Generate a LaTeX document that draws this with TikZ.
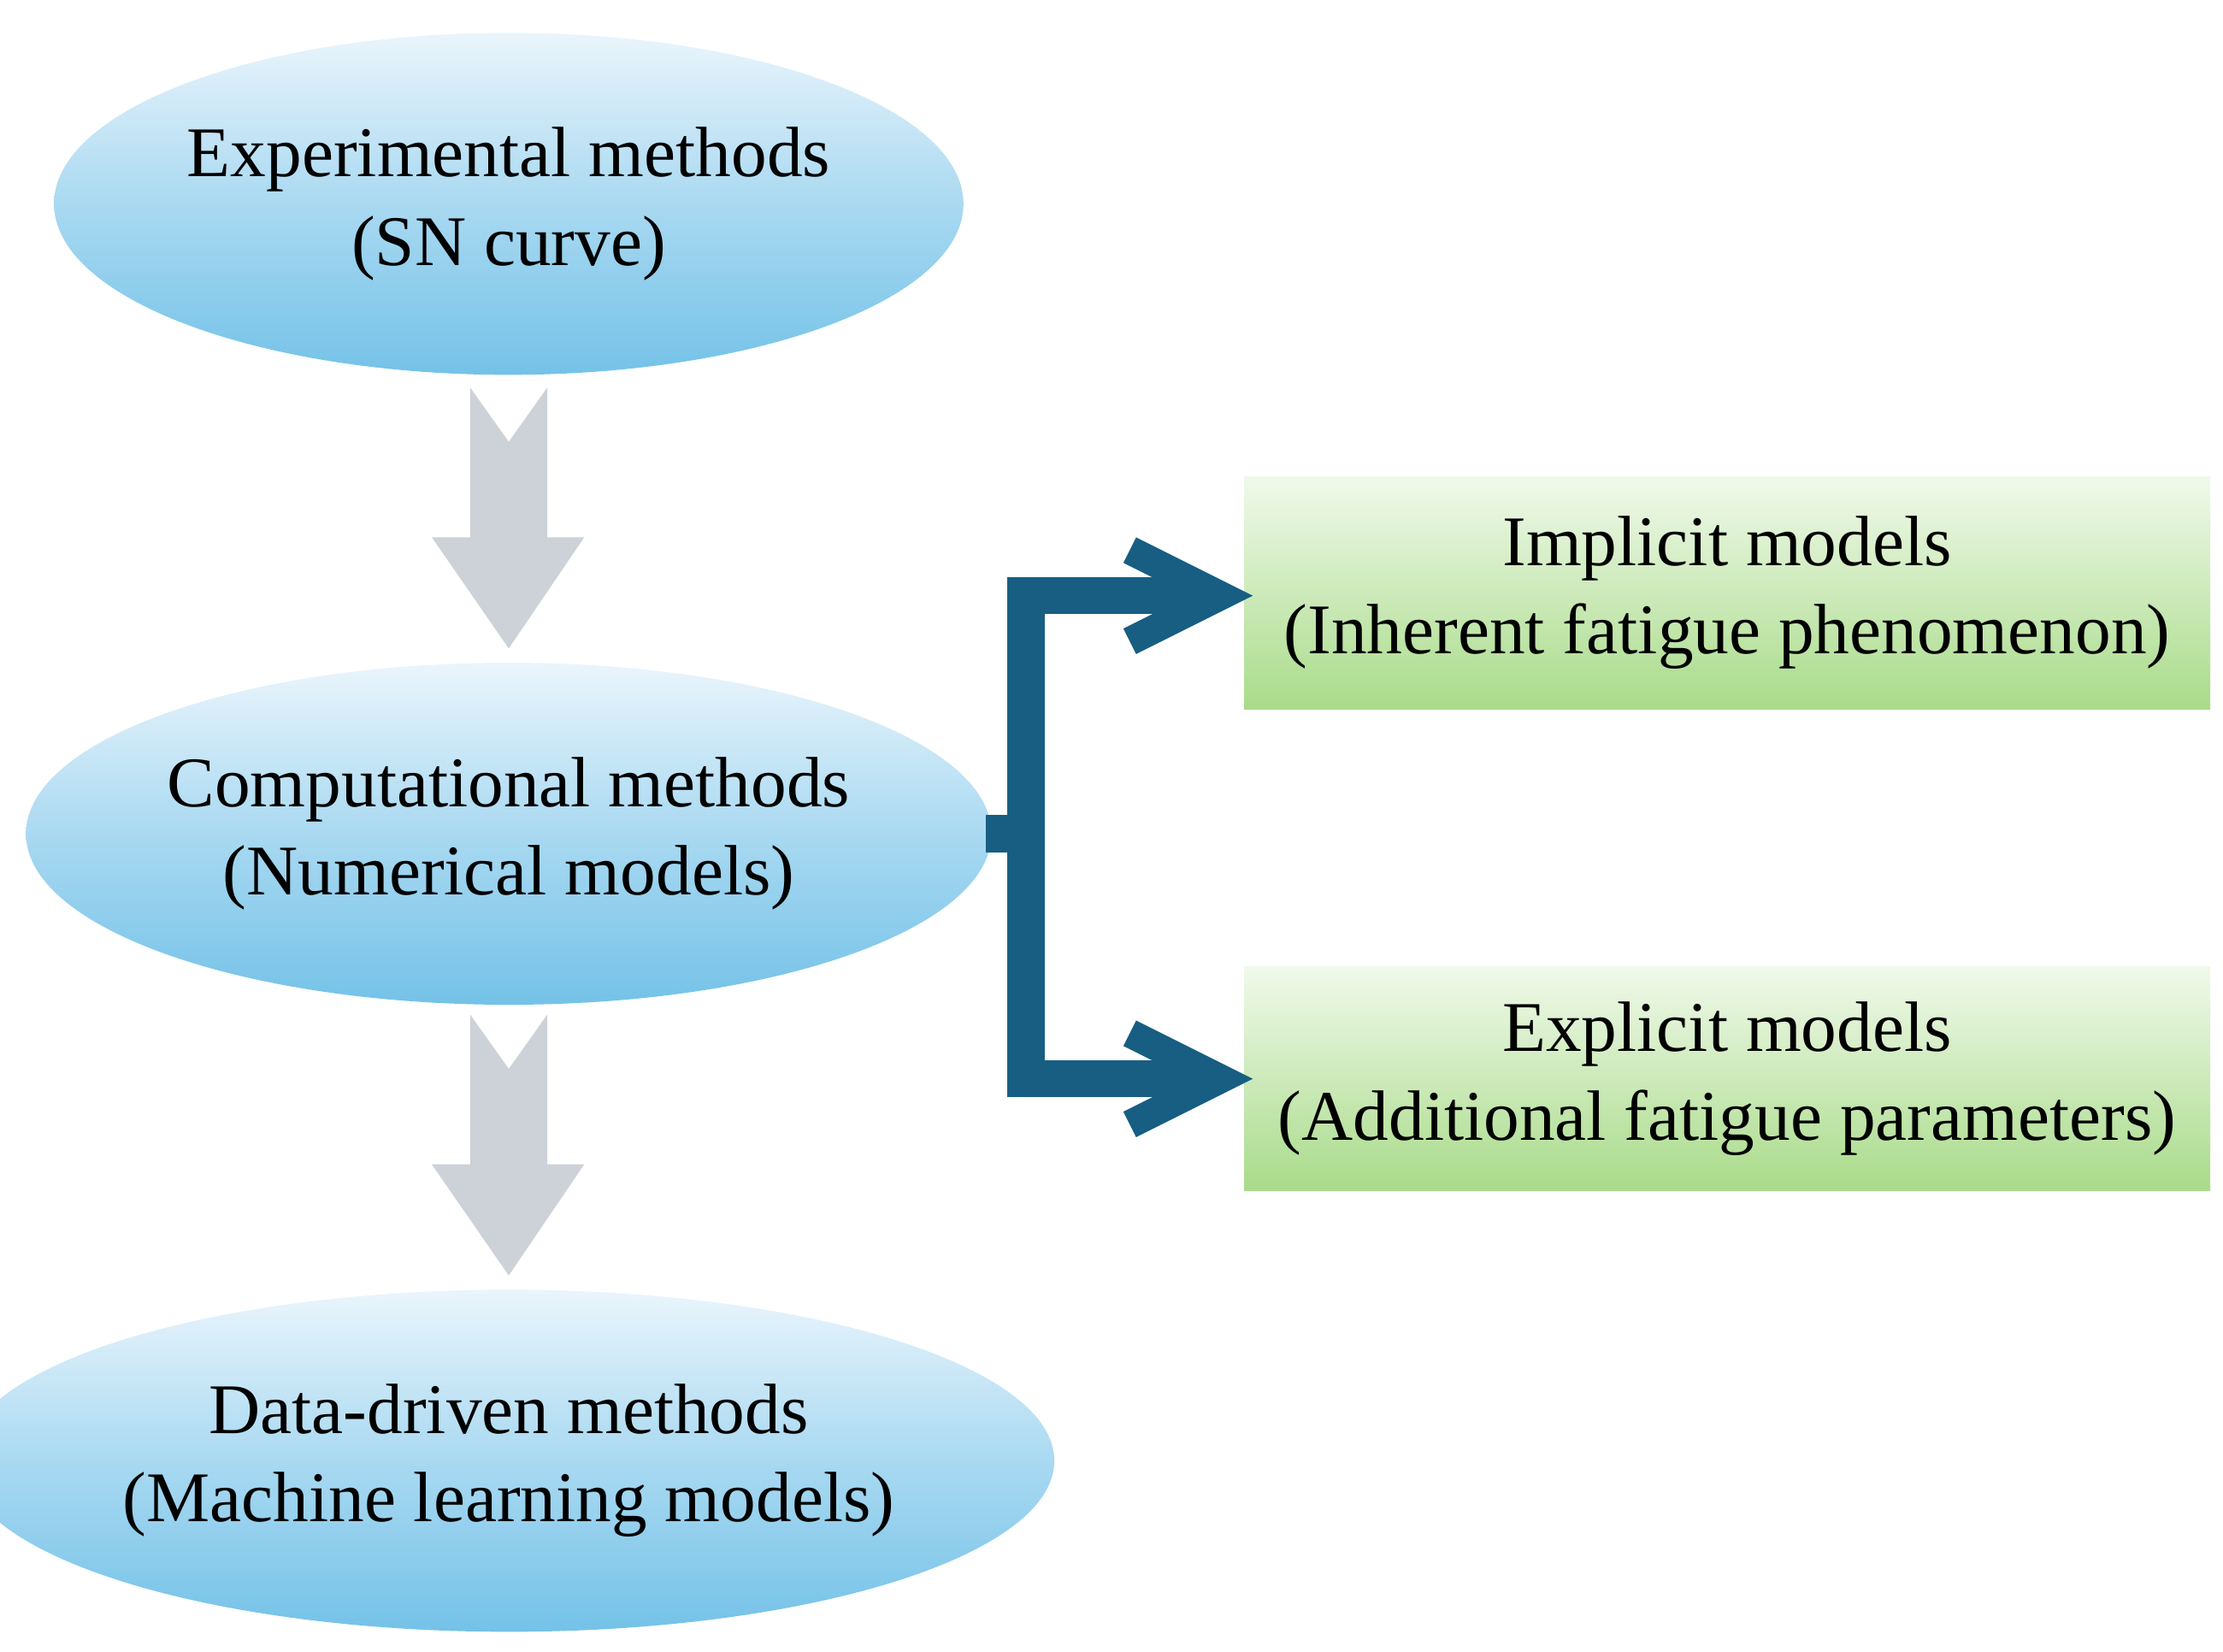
\documentclass[tikz,border=0pt]{standalone}
\usepackage{fontspec}
\setmainfont{Liberation Serif}
\usetikzlibrary{shapes.geometric}
\definecolor{ebot}{HTML}{74C2E8}
\definecolor{etop}{HTML}{EAF5FC}
\definecolor{gtop}{HTML}{F0F9EA}
\definecolor{gbot}{HTML}{A9DB8A}
\definecolor{conn}{HTML}{175E82}
\definecolor{garr}{HTML}{CDD2D8}
\tikzset{
  ell/.style={ellipse, top color=etop, bottom color=ebot, middle color=ebot!55!etop, shading angle=0, draw=none, align=center, font=\fontsize{50}{62}\selectfont, inner sep=0pt},
  box/.style={rectangle, top color=gtop, bottom color=gbot, draw=none, align=center, font=\fontsize{50}{62}\selectfont, inner sep=0pt},
}
\begin{document}
\begin{tikzpicture}[x=1pt,y=-1pt]
\useasboundingbox (0,0) rectangle (1560,1159);
\node[ell, minimum width=518, minimum height=240] (e1) at (357,143) {Experimental methods\\(SN curve)};
\node[ell, minimum width=541, minimum height=240] (e2) at (357,585) {Computational methods\\(Numerical models)};
\node[ell, minimum width=656, minimum height=240] (e3) at (357,1025) {Data-driven methods\\(Machine learning models)};
\node[box, minimum width=678, minimum height=163] (b1) at (1212,416) {Implicit models\\(Inherent fatigue phenomenon)};
\node[box, minimum width=678, minimum height=157] (b2) at (1212,757) {Explicit models\\(Additional fatigue parameters)};
% gray arrows
\foreach \y in {272,712}{
  \fill[garr] (330,\y) -- (357,\y+38) -- (384,\y) -- (384,\y+105) -- (410,\y+105) -- (357,\y+183) -- (303,\y+105) -- (330,\y+105) -- cycle;
}
% connectors
\coordinate (j) at (720,585);
\coordinate (j1) at (720,418);
\coordinate (j2) at (720,757);
\draw[conn, line width=26, line join=miter] ([xshift=-4]e2.east) -- (j);
\draw[conn, line width=26, line join=miter] (j1 -| b1.west) ++(-30,0) -- (j1) -- (j2) -- ([xshift=-30]j2 -| b2.west);
\foreach \b/\c in {b1/j1,b2/j2}{
  \draw[conn, line width=20, line join=miter] ([xshift=-80,yshift=-32]\c -| \b.west) -- ([xshift=-16]\c -| \b.west) -- ([xshift=-80,yshift=32]\c -| \b.west);
}
\end{tikzpicture}
\end{document}
